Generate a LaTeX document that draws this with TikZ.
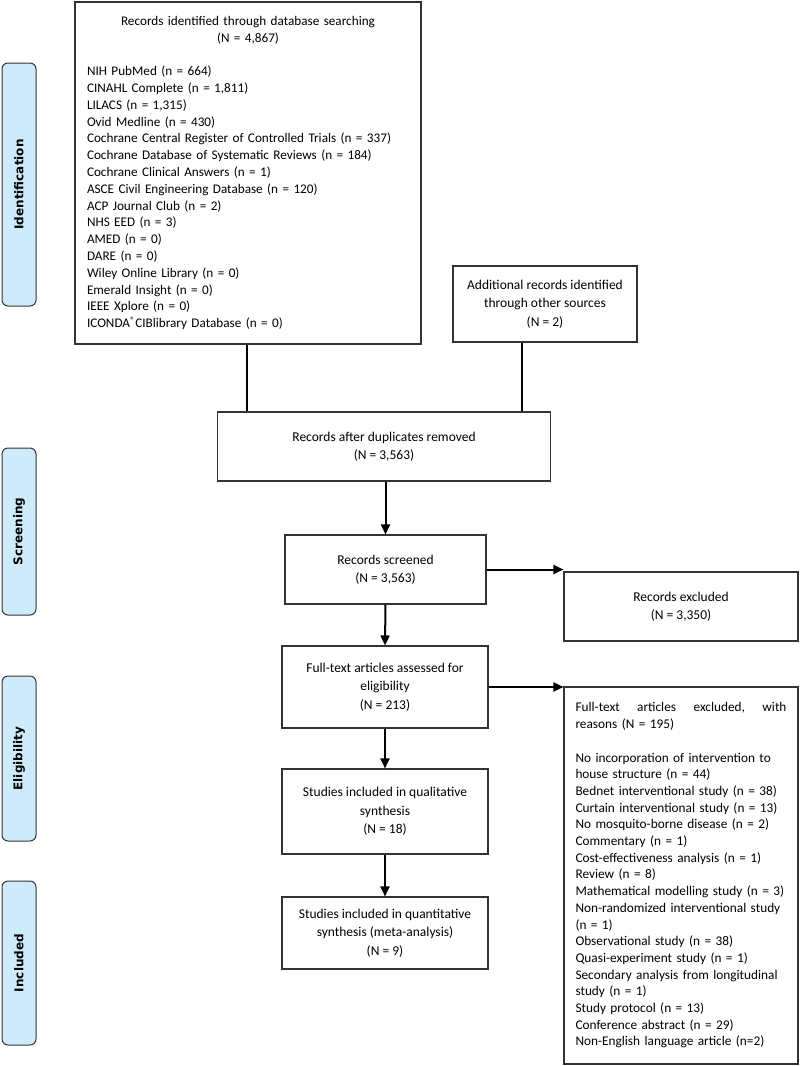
\documentclass[tikz,border=0pt]{standalone}
\usepackage{fontspec}
\setmainfont{Carlito}
\newfontfamily\labelfont{DejaVu Sans}
\usetikzlibrary{arrows.meta,calc}
\definecolor{phaseblue}{HTML}{CDEBFB}
\definecolor{edgegray}{HTML}{333333}
\begin{document}
\begin{tikzpicture}[x=1pt,y=-1pt,
  box/.style={draw=edgegray, line width=1.1pt, rectangle, inner sep=0pt, align=center,
    font=\fontsize{13.5}{18.5}\selectfont},
  listbox/.style={draw=edgegray, line width=1.1pt, rectangle, inner sep=0pt},
  phase/.style={draw=edgegray, line width=1pt, fill=phaseblue, rounded corners=6pt,
    minimum width=34pt, inner sep=0pt, font=\labelfont\bfseries\fontsize{12}{14}\selectfont},
  link/.style={line width=2pt},
  arr/.style={line width=2pt, -{Triangle[length=10pt,width=9pt]}},
]
\useasboundingbox (0,0) rectangle (800,1066);

% phase labels
\node[phase, minimum height=243pt] (pid) at (19,184.5) {\rotatebox{90}{Identification}};
\node[phase, minimum height=167pt] (pscr) at (19,531.5) {\rotatebox{90}{Screening}};
\node[phase, minimum height=165pt] (pelig) at (19,758.5) {\rotatebox{90}{Eligibility}};
\node[phase, minimum height=164pt] (pinc) at (19,963) {\rotatebox{90}{Included}};

% database box
\node[listbox, text width=322pt, minimum width=346pt, minimum height=342pt, inner xsep=12pt,
      font=\fontsize{13.2}{16.8}\selectfont] (db) at (248,173) {%
{\centering Records identified through database searching\\(N = 4,867)\par}
\vspace{16.8pt}
\raggedright
NIH PubMed (n = 664)\\
CINAHL Complete (n = 1,811)\\
LILACS (n = 1,315)\\
Ovid Medline (n = 430)\\
Cochrane Central Register of Controlled Trials (n = 337)\\
Cochrane Database of Systematic Reviews (n = 184)\\
Cochrane Clinical Answers (n = 1)\\
ASCE Civil Engineering Database (n = 120)\\
ACP Journal Club (n = 2)\\
NHS EED (n = 3)\\
AMED (n = 0)\\
DARE (n = 0)\\
Wiley Online Library (n = 0)\\
Emerald Insight (n = 0)\\
IEEE Xplore (n = 0)\\
ICONDA\textsuperscript{®}CIBlibrary Database (n = 0)\par};

\node[box, minimum width=184pt, minimum height=76pt] (add) at (545,304)
  {Additional records identified\\through other sources\\(N = 2)};

\node[box, minimum width=333pt, minimum height=69pt] (dedup) at (384,446.5)
  {Records after duplicates removed\\(N = 3,563)};

\node[box, minimum width=201pt, minimum height=69pt] (scr) at (385.5,569.5)
  {Records screened\\(N = 3,563)};

\node[box, minimum width=234pt, minimum height=69pt] (excl) at (681,606.5)
  {Records excluded\\(N = 3,350)};

\node[box, minimum width=206pt, minimum height=82pt] (full) at (385,687)
  {Full-text articles assessed for\\eligibility\\(N = 213)};

\node[box, minimum width=206pt, minimum height=85pt] (qual) at (385,811.5)
  {Studies included in qualitative\\synthesis\\(N = 18)};

\node[box, minimum width=206pt, minimum height=72pt] (quant) at (385,933)
  {Studies included in quantitative\\synthesis (meta-analysis)\\(N = 9)};

\node[listbox, text width=211pt, minimum width=234pt, minimum height=377pt, inner xsep=11.5pt,
      font=\fontsize{13.3}{16.7}\selectfont] (ftex) at (681,875.5) {%
\raggedright
\hbox to 211pt{Full-text\hfill articles\hfill excluded,\hfill with}
reasons (N = 195)\\
\mbox{}\\
No incorporation of intervention to\\
house structure (n = 44)\\
Bednet interventional study (n = 38)\\
Curtain interventional study (n = 13)\\
No mosquito-borne disease (n = 2)\\
Commentary (n = 1)\\
Cost-effectiveness analysis (n = 1)\\
Review (n = 8)\\
Mathematical modelling study (n = 3)\\
Non-randomized interventional study\\
(n = 1)\\
Observational study (n = 38)\\
Quasi-experiment study (n = 1)\\
Secondary analysis from longitudinal\\
study (n = 1)\\
Study protocol (n = 13)\\
Conference abstract (n = 29)\\
Non-English language article (n=2)\par};

% connectors
\coordinate (dbout) at ($(db.south west)!0.497!(db.south east)$);
\coordinate (addout) at ($(add.south west)!0.375!(add.south east)$);
\draw[link] (dbout) -- (dbout |- dedup.north);
\draw[link] (addout) -- (addout |- dedup.north);
\draw[arr] (dedup.south -| scr.north) -- (scr.north);
\draw[arr] (scr.east) -- (scr.east -| excl.west);
\draw[arr] (scr.south) -- (full.north);
\draw[arr] (full.east) -- (full.east -| ftex.west);
\draw[arr] (full.south) -- (qual.north);
\draw[arr] (qual.south) -- (quant.north);
\end{tikzpicture}
\end{document}
